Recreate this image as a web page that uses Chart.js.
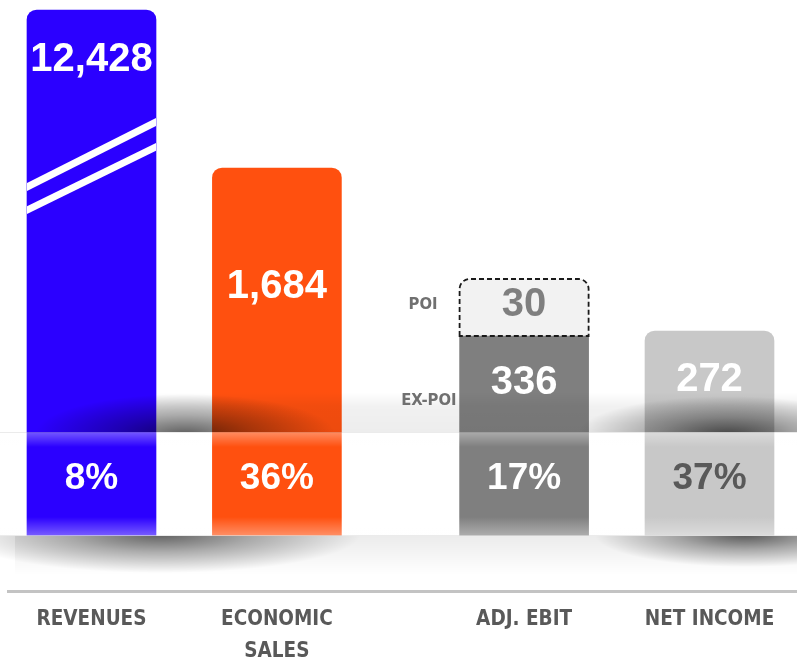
<!DOCTYPE html>
<html>
<head>
<meta charset="utf-8">
<script src="https://cdn.jsdelivr.net/npm/chart.js@4.4.1/dist/chart.umd.min.js"></script>
<style>
  html, body { margin: 0; padding: 0; background: #fff; }
  #wrap { position: relative; width: 797px; height: 657px; }
</style>
</head>
<body>
<div id="wrap"><canvas id="chart" width="797" height="657"></canvas></div>
<script>
// Key figures as printed on the slide
const categories = [['REVENUES'], ['ECONOMIC', 'SALES'], ['ADJ. EBIT'], ['NET INCOME']];
const valueLabels = ['12,428', '1,684', '336', '272'];
const marginLabels = ['8%', '36%', '17%', '37%'];
// Bar heights as drawn (the slide is not to scale, revenues has a broken axis)
const barHeights = [525, 367, 199, 204];
const poiHeights = [null, null, 57, null];
const poiValueLabel = '30';

const barColors = ['#2b00ff', '#ff500f', '#7f7f7f', '#c8c8c8'];
const valueColors = ['#ffffff', '#ffffff', '#ffffff', '#ffffff'];
const marginColors = ['#ffffff', '#ffffff', '#ffffff', '#595959'];

// The four columns sit in a grid of 11 slots (wider gap before ADJ. EBIT)
const SLOT = [0, 3, 7, 10];
const SLOT_COUNT = 11;

const NUM_FONT = '"Liberation Sans", Arial, sans-serif';
const TXT_FONT = '"DejaVu Sans Condensed", "Liberation Sans Narrow", sans-serif';

function toSlots(arr, fill) {
	const out = new Array(SLOT_COUNT).fill(fill);
	arr.forEach((v, i) => { out[SLOT[i]] = v; });
	return out;
}

const labels = toSlots(categories, '');

// Shadows, band, break marks and text labels
const decor = {
	id: 'decor',
	afterDatasetsDraw(chart) {
		const ctx = chart.ctx;
		const y = chart.scales.y;
		const W = chart.width;
		const base = y.getPixelForValue(0);
		const bandTop = base - 103;
		const main = chart.getDatasetMeta(0).data;
		const poi = chart.getDatasetMeta(1).data;

		const blob = (cx, cy, rx, ry, a) => {
			ctx.save();
			ctx.translate(cx, cy);
			ctx.scale(rx / ry, 1);
			const g = ctx.createRadialGradient(0, 0, 0, 0, 0, ry);
			g.addColorStop(0, `rgba(0,0,0,${a})`);
			g.addColorStop(0.45, `rgba(0,0,0,${a * 0.5})`);
			g.addColorStop(1, 'rgba(0,0,0,0)');
			ctx.fillStyle = g;
			ctx.fillRect(-ry, -ry, ry * 2, ry * 2);
			ctx.restore();
		};

		// shadow above the band
		ctx.save();
		ctx.beginPath();
		ctx.rect(0, bandTop - 48, W, 48);
		ctx.clip();
		let g = ctx.createLinearGradient(0, bandTop - 40, 0, bandTop);
		g.addColorStop(0, 'rgba(0,0,0,0)');
		g.addColorStop(0.35, 'rgba(0,0,0,0.055)');
		g.addColorStop(1, 'rgba(0,0,0,0.07)');
		ctx.fillStyle = g;
		ctx.fillRect(157, bandTop - 48, W - 157, 48);
		blob(185, bandTop + 2, 150, 40, 0.6);
		blob(728, bandTop + 2, 150, 38, 0.62);
		ctx.restore();

		// band edges and gloss
		ctx.save();
		g = ctx.createLinearGradient(0, bandTop, 0, bandTop + 15);
		g.addColorStop(0, 'rgba(255,255,255,0.35)');
		g.addColorStop(1, 'rgba(255,255,255,0)');
		ctx.fillStyle = g;
		ctx.fillRect(0, bandTop, W, 15);
		g = ctx.createLinearGradient(0, base - 18, 0, base);
		g.addColorStop(0, 'rgba(255,255,255,0)');
		g.addColorStop(1, 'rgba(255,255,255,0.35)');
		ctx.fillStyle = g;
		ctx.fillRect(0, base - 18, W, 18);
		ctx.fillStyle = 'rgba(0,0,0,0.08)';
		ctx.fillRect(0, bandTop, W, 1);
		ctx.fillRect(0, base, W, 1);
		ctx.restore();

		// shadow below the band
		ctx.save();
		ctx.beginPath();
		ctx.rect(0, base + 1, W, 50);
		ctx.clip();
		g = ctx.createLinearGradient(0, base, 0, base + 40);
		g.addColorStop(0, 'rgba(0,0,0,0.08)');
		g.addColorStop(1, 'rgba(0,0,0,0)');
		ctx.fillStyle = g;
		ctx.fillRect(15, base, W - 15, 50);
		blob(160, base, 200, 38, 0.58);
		blob(745, base, 150, 32, 0.62);
		ctx.restore();

		// broken-axis marks on revenues
		const rev = main[SLOT[0]];
		const rl = rev.x - rev.width / 2, rr = rev.x + rev.width / 2;
		ctx.save();
		ctx.beginPath();
		ctx.rect(rl, rev.y, rev.width, base - rev.y);
		ctx.clip();
		ctx.strokeStyle = '#ffffff';
		ctx.lineWidth = 7;
		[[177, 112], [200, 137]].forEach(([a, b]) => {
			ctx.beginPath();
			ctx.moveTo(rl - 4, rev.y + a + 2);
			ctx.lineTo(rr + 4, rev.y + b - 2);
			ctx.stroke();
		});
		ctx.restore();

		// dashed outline of POI part
		const p = poi[SLOT[2]];
		const pl = p.x - p.width / 2, pr = p.x + p.width / 2;
		const r = 10;
		ctx.save();
		ctx.strokeStyle = '#1a1a1a';
		ctx.lineWidth = 1.8;
		ctx.setLineDash([5, 3]);
		ctx.beginPath();
		ctx.moveTo(pl, p.base);
		ctx.lineTo(pl, p.y + r);
		ctx.arcTo(pl, p.y, pl + r, p.y, r);
		ctx.lineTo(pr - r, p.y);
		ctx.arcTo(pr, p.y, pr, p.y + r, r);
		ctx.lineTo(pr, p.base);
		ctx.closePath();
		ctx.stroke();
		ctx.restore();

		// numbers
		ctx.save();
		ctx.textAlign = 'center';
		ctx.textBaseline = 'middle';
		ctx.font = `bold 40px ${NUM_FONT}`;
		const drop = [50, 119, 47, 49];
		valueLabels.forEach((t, i) => {
			const el = main[SLOT[i]];
			ctx.fillStyle = valueColors[i];
			ctx.fillText(t, el.x, el.y + drop[i]);
		});
		ctx.fillStyle = '#7f7f7f';
		ctx.fillText(poiValueLabel, p.x, (p.y + p.base) / 2 - 3);
		ctx.font = `bold 37px ${NUM_FONT}`;
		marginLabels.forEach((t, i) => {
			const el = main[SLOT[i]];
			ctx.fillStyle = marginColors[i];
			ctx.fillText(t, el.x, (bandTop + base) / 2 - 5);
		});

		// side labels for the ADJ. EBIT split
		ctx.textAlign = 'right';
		ctx.fillStyle = '#707070';
		ctx.font = `bold 16.5px ${TXT_FONT}`;
		ctx.fillText('POI', pl - 22, (p.y + p.base) / 2 - 3);
		ctx.fillText('EX-POI', pl - 3, bandTop - 31);
		ctx.restore();

		// axis line
		ctx.save();
		ctx.fillStyle = '#c3c3c3';
		ctx.fillRect(7, y.bottom, W - 7, 3);
		ctx.restore();
	}
};

new Chart(document.getElementById('chart'), {
	type: 'bar',
	data: {
		labels,
		datasets: [
			{
				label: 'Value',
				data: toSlots(barHeights, null),
				backgroundColor: toSlots(barColors, 'transparent'),
				borderWidth: 0,
				borderRadius: (c) => c.dataIndex === SLOT[2] ? 0 : { topLeft: 10, topRight: 10, bottomLeft: 0, bottomRight: 0 },
				borderSkipped: false,
				clip: false,
			},
			{
				label: 'POI',
				data: toSlots(poiHeights, null),
				backgroundColor: '#f2f2f2',
				borderWidth: 0,
				borderRadius: { topLeft: 10, topRight: 10, bottomLeft: 0, bottomRight: 0 },
				borderSkipped: false,
				clip: false,
			},
		],
	},
	options: {
		responsive: false,
		animation: false,
		devicePixelRatio: 1,
		barThickness: 129,
		layout: { padding: { left: 60.6, right: 56.6, top: 10, bottom: 0 } },
		plugins: {
			legend: { display: false },
			tooltip: { enabled: false },
		},
		scales: {
			x: {
				stacked: true,
				grid: { display: false, drawTicks: false },
				border: { display: false },
				afterFit: (scale) => { scale.height = 67; },
				ticks: {
					autoSkip: false,
					maxRotation: 0,
					padding: 14,
					color: '#595959',
					font: { family: TXT_FONT, size: 20.5, weight: 'bold', lineHeight: 1.55 },
				},
			},
			y: {
				stacked: true,
				display: false,
				min: -55,
				max: 525,
			},
		},
	},
	plugins: [decor],
});
</script>
</body>
</html>
